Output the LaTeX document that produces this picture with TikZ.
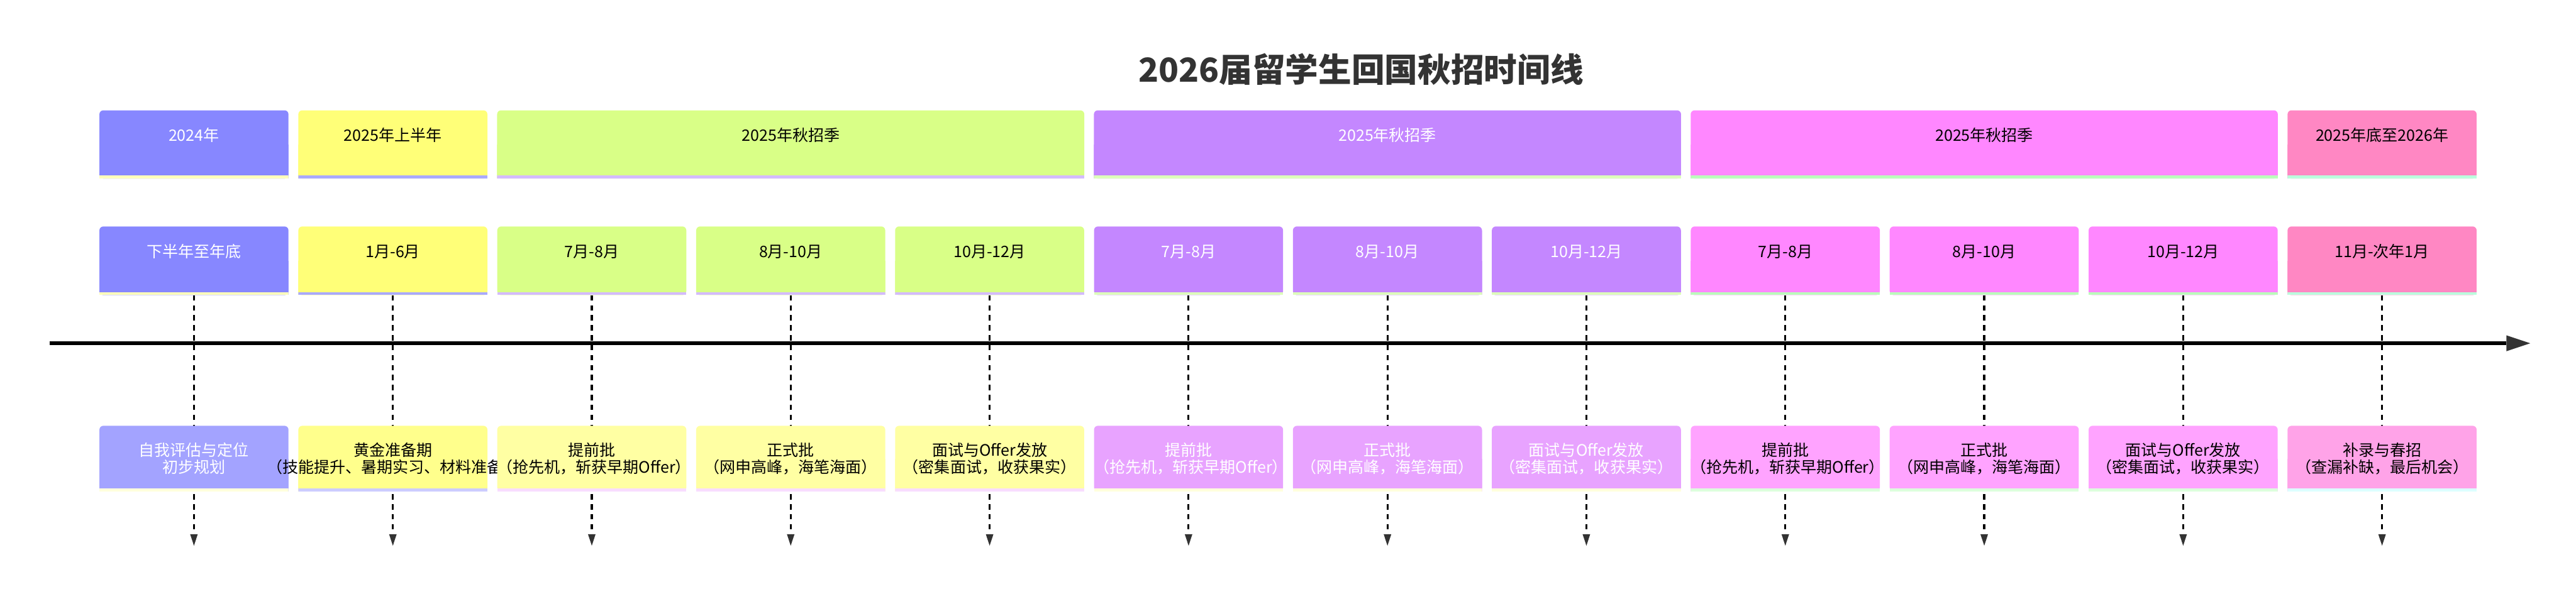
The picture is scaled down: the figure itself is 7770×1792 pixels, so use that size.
\documentclass[tikz,border=0pt]{standalone}
\usepackage{fontspec}
\setmainfont{Noto Sans CJK SC}
\usetikzlibrary{arrows.meta}
% 阶段主色
\definecolor{cA}{HTML}{8787FF}
\definecolor{cB}{HTML}{FFFF78}
\definecolor{cC}{HTML}{D9FF87}
\definecolor{cD}{HTML}{C487FF}
\definecolor{cE}{HTML}{FF87FF}
\definecolor{cF}{HTML}{FF87C3}
% 阶段底条
\definecolor{sA}{HTML}{FFFFBB}
\definecolor{sB}{HTML}{AAAAFF}
\definecolor{sC}{HTML}{D4BBFF}
\definecolor{sD}{HTML}{DDFFBB}
\definecolor{sE}{HTML}{BBFFBB}
\definecolor{sF}{HTML}{BBFFDD}
% 事件色
\definecolor{eA}{HTML}{A3A3FF}
\definecolor{eB}{HTML}{FFFF8C}
\definecolor{eC}{HTML}{FFFFA3}
\definecolor{eD}{HTML}{E8A3FF}
\definecolor{eE}{HTML}{FFA3FF}
\definecolor{eF}{HTML}{FFA3E8}
% 事件底条
\definecolor{tA}{HTML}{FFFFDD}
\definecolor{tB}{HTML}{CCCCFF}
\definecolor{tC}{HTML}{F8DDFF}
\definecolor{tD}{HTML}{FFFFDD}
\definecolor{tE}{HTML}{DDFFDD}
\definecolor{tF}{HTML}{DDFFFF}
\definecolor{titlegray}{HTML}{333333}
\definecolor{tipgray}{HTML}{333333}
\tikzset{
	card/.style 2 args={rectangle, inner sep=0pt, align=center,
		path picture={
			\fill[#1, rounded corners=0.12cm] (path picture bounding box.south west) rectangle (path picture bounding box.north east);
			\fill[#1] (path picture bounding box.south west) rectangle (path picture bounding box.east);
			\fill[#2] (path picture bounding box.south west) rectangle ([yshift=0.09cm]path picture bounding box.south east);
		}},
	period/.style={text width=#1, minimum height=2.06cm, text height=0.4cm, text depth=0.6cm},
	stage/.style={text width=5.7cm, minimum height=2.07cm, text height=0.4cm, text depth=0.6cm},
	event/.style={text width=5.7cm, minimum height=1.98cm},
	light/.style={text=white},
	drop/.style={line width=0.06cm, dash pattern=on 0.16cm off 0.14cm,
		-{Triangle[length=0.35cm, width=0.23cm, line width=0pt, color=tipgray]}},
	timeaxis/.style={line width=0.12cm,
		-{Triangle[length=0.72cm, width=0.48cm, line width=0pt, color=tipgray]}},
}
\begin{document}
\begin{tikzpicture}[x=0.01cm, y=-0.01cm, font=\fontsize{13.5pt}{14.8pt}\selectfont]
	\def\colx{585} % 第一列中心
	\def\colgap{600} % 列距
	\useasboundingbox (0,0) rectangle (7770,1792);
	\path (4105,210) node[font=\fontsize{28.4pt}{32pt}\selectfont\bfseries, text=titlegray] (title) {2026届留学生回国秋招时间线};
	% 年份
	\path
	(585,436) node[card={cA}{sA}, period=5.7cm, light] (p0) {2024年}
	(1185,436) node[card={cB}{sB}, period=5.7cm] (p1) {2025年上半年}
	(2385,436) node[card={cC}{sC}, period=17.7cm] (p2) {2025年秋招季}
	(4185,436) node[card={cD}{sD}, period=17.7cm, light] (p3) {2025年秋招季}
	(5985,436) node[card={cE}{sE}, period=17.7cm] (p4) {2025年秋招季}
	(7185,436) node[card={cF}{sF}, period=5.7cm] (p5) {2025年底至2026年};
	% 月份
	\path
	(585,787) node[card={cA}{sA}, stage, light] (m0) {下半年至年底}
	(1185,787) node[card={cB}{sB}, stage] (m1) {1月-6月}
	(1785,787) node[card={cC}{sC}, stage] (m2) {7月-8月}
	(2385,787) node[card={cC}{sC}, stage] (m3) {8月-10月}
	(2985,787) node[card={cC}{sC}, stage] (m4) {10月-12月}
	(3585,787) node[card={cD}{sD}, stage, light] (m5) {7月-8月}
	(4185,787) node[card={cD}{sD}, stage, light] (m6) {8月-10月}
	(4785,787) node[card={cD}{sD}, stage, light] (m7) {10月-12月}
	(5385,787) node[card={cE}{sE}, stage] (m8) {7月-8月}
	(5985,787) node[card={cE}{sE}, stage] (m9) {8月-10月}
	(6585,787) node[card={cE}{sE}, stage] (m10) {10月-12月}
	(7185,787) node[card={cF}{sF}, stage] (m11) {11月-次年1月};
	% 时间轴
	\coordinate (t0) at (149,1036);
	\coordinate (t1) at (7632,1036);
	\foreach \i in {0,...,11} \coordinate (a\i) at (\colx+\colgap*\i,1647);
	\foreach \i in {0,...,11} \draw[drop] (m\i.south) -- (a\i);
	\draw[timeaxis] (t0) -- (t1);
	% 事件
	\path
	(585,1384) node[card={eA}{tA}, event, light] (e0) {自我评估与定位\\初步规划}
	(1185,1384) node[card={eB}{tB}, event] (e1) {黄金准备期\\\makebox[\linewidth]{（技能提升、暑期实习、材料准备）}}
	(1785,1384) node[card={eC}{tC}, event] (e2) {提前批\\（抢先机，斩获早期Offer）}
	(2385,1384) node[card={eC}{tC}, event] (e3) {正式批\\（网申高峰，海笔海面）}
	(2985,1384) node[card={eC}{tC}, event] (e4) {面试与Offer发放\\（密集面试，收获果实）}
	(3585,1384) node[card={eD}{tD}, event, light] (e5) {提前批\\（抢先机，斩获早期Offer）}
	(4185,1384) node[card={eD}{tD}, event, light] (e6) {正式批\\（网申高峰，海笔海面）}
	(4785,1384) node[card={eD}{tD}, event, light] (e7) {面试与Offer发放\\（密集面试，收获果实）}
	(5385,1384) node[card={eE}{tE}, event] (e8) {提前批\\（抢先机，斩获早期Offer）}
	(5985,1384) node[card={eE}{tE}, event] (e9) {正式批\\（网申高峰，海笔海面）}
	(6585,1384) node[card={eE}{tE}, event] (e10) {面试与Offer发放\\（密集面试，收获果实）}
	(7185,1384) node[card={eF}{tF}, event] (e11) {补录与春招\\（查漏补缺，最后机会）};
\end{tikzpicture}
\end{document}
